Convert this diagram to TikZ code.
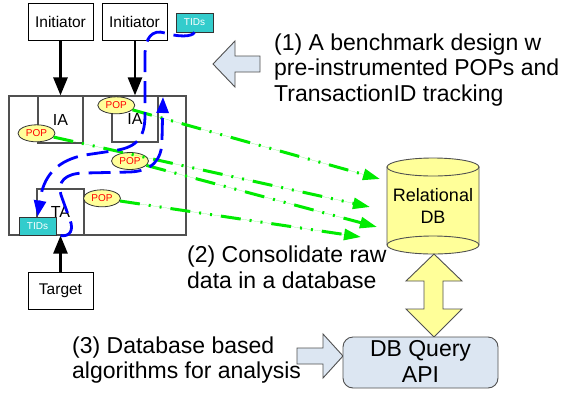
\documentclass[tikz,border=0pt]{standalone}
\usepackage{fontspec}
\setmainfont{Liberation Sans}
\usetikzlibrary{arrows.meta,shapes.geometric}
\definecolor{ylw}{RGB}{255,255,153}
\definecolor{lblue}{RGB}{220,230,242}
\definecolor{tealc}{RGB}{51,204,204}
\definecolor{grnc}{RGB}{0,235,0}
\definecolor{bluec}{RGB}{0,0,255}
\definecolor{edgec}{RGB}{80,80,80}
\definecolor{popred}{RGB}{255,0,0}
\begin{document}
\begin{tikzpicture}[x=1pt,y=-1pt,
  box/.style={draw=black, line width=0.9pt, fill=white, inner sep=0pt, font=\fontsize{15.5}{18}\selectfont},
  gbox/.style={draw=edgec, line width=1.2pt, fill=white, inner sep=0pt, font=\fontsize{16}{19}\selectfont},
  tids/.style={draw=black!80, line width=0.9pt, fill=tealc, text=white, inner sep=0pt, minimum width=37pt, font=\fontsize{10}{12}\selectfont},
  pop/.style={ellipse, draw=black!80, line width=0.8pt, fill=ylw, text=popred, inner sep=0pt, minimum width=37pt, minimum height=17pt, font=\fontsize{10}{12}\selectfont},
  blk/.style={line width=2.7pt, -{Triangle[length=18pt,width=14pt]}},
  grn/.style={draw=grnc, line width=3pt, dash pattern=on 20pt off 9pt on 2pt off 9pt on 2pt off 9pt, -{Triangle[length=17pt,width=11pt]}, fill=grnc},
  blu/.style={draw=bluec, line width=2.8pt, dash pattern=on 22pt off 9pt, -{Triangle[length=16pt,width=12pt]}},
  big/.style={font=\fontsize{23}{26}\selectfont, inner sep=0pt, anchor=base west},
  dbtext/.style={font=\fontsize{18}{21}\selectfont, inner sep=0pt, anchor=base},
  blockarrow/.style={draw=edgec, line width=0.9pt, fill=lblue, line join=miter},
  dbshape/.style={draw=edgec, line width=0.9pt, fill=ylw, line join=miter},
]
\useasboundingbox (0,0) rectangle (563,392);
\fill[white] (0,0) rectangle (563,392);

% system box and agents
\node[gbox, minimum width=177pt, minimum height=139pt] (sys) at (97.5,165.5) {};
\node[gbox, minimum width=45pt, minimum height=47pt] (ia1) at (60.5,119.5) {IA};
\node[gbox, minimum width=46pt, minimum height=46pt] (ia2) at (135,119) {IA};
\node[gbox, minimum width=47pt, minimum height=46pt] (ta) at (60.5,212) {TA};
\node[tids, minimum height=18pt] (tids2) at (37.5,226) {TIDs};

% initiators, target
\node[box, minimum width=65pt, minimum height=37pt] (ini1) at (60.5,21.5) {Initiator};
\node[box, minimum width=65pt, minimum height=37pt] (ini2) at (134.5,21.5) {Initiator};
\node[box, minimum width=65pt, minimum height=37pt] (tgt) at (60.5,290.5) {Target};
\node[tids, minimum height=19pt] (tids1) at (194.5,22.5) {TIDs};

\draw[blk] (ini1.south) -- (ia1.north);
\draw[blk] (ini2.south -| ia2.north) -- (ia2.north);
\draw[blk] (tgt.north) -- (ta.south);

% POPs
\node[pop] (pop1) at (36.5,133.3) {POP};
\node[pop] (pop2) at (116.3,105.3) {POP};
\node[pop] (pop3) at (130,161) {POP};
\node[pop] (pop4) at (102,198.3) {POP};

% database
\path[dbshape] (387,167) -- (387,245) arc[start angle=180, end angle=360, x radius=46pt, y radius=9pt] -- (479,167) -- cycle;
\draw[draw=edgec, line width=0.9pt] (387,245) arc[start angle=180, end angle=0, x radius=46pt, y radius=9pt];
\draw[dbshape] (433,167) ellipse[x radius=46pt, y radius=9pt];
\node[dbtext] (dbt1) at (433,201.5) {Relational};
\node[dbtext] (dbt2) at (433,223) {DB};

% green data flows
\coordinate (g1) at (380,179);
\coordinate (g2) at (370,207);
\coordinate (g3) at (377,227);
\coordinate (g4) at (361,237);
\draw[grn] (pop2) -- (g1);
\draw[grn] (pop1) -- (g2);
\draw[grn] (pop3) -- (g3);
\draw[grn] (pop4) -- (g4);

% blue TID flows
\coordinate (bt) at (163,97);
\draw[blu] (tids1.south) .. controls (192,37) and (178,37) .. (165,33)
  .. controls (152,29) and (145,38) .. (145,55) -- (145,115)
  .. controls (145,140) and (135,148) .. (112,151) -- (85,155)
  .. controls (58,160) and (45,175) .. (41,195) -- (tids2.north);
\draw[blu] (ta.south) .. controls (70,237) and (74,230) .. (70,220) -- (61,195)
  .. controls (57,182) and (65,173) .. (85,173) -- (130,172)
  .. controls (152,171) and (162,160) .. (162,140) -- (bt);

% block arrows
\draw[blockarrow] (213,64) -- (235,41) -- (235,56) -- (260,56) -- (260,72) -- (235,72) -- (235,87) -- cycle;
\draw[blockarrow] (297,348) -- (323,348) -- (323,334) -- (343,356) -- (323,378) -- (323,364) -- (297,364) -- cycle;
\draw[dbshape] (434,254) -- (462,281) -- (443,281) -- (443,309) -- (462,309) -- (434,337) -- (406,309) -- (424,309) -- (424,281) -- (406,281) -- cycle;

% API box
\node[draw=edgec, line width=0.9pt, fill=lblue, rounded corners=10pt, minimum width=155pt, minimum height=51pt, inner sep=0pt] (api) at (420.5,362.5) {};
\node[big, anchor=base] (apit1) at (420.5,356) {DB Query};
\node[big, anchor=base] (apit2) at (420.5,382) {API};

% texts
\node[big] (c1a) at (274,50) {(1) A benchmark design w};
\node[big] (c1b) at (274,75.5) {pre-instrumented POPs and};
\node[big] (c1c) at (274,101) {TransactionID tracking};
\node[big] (c2a) at (187,262) {(2) Consolidate raw};
\node[big] (c2b) at (187,288) {data in a database};
\node[big] (c3a) at (72,353) {(3) Database based};
\node[big] (c3b) at (72,378) {algorithms for analysis};
\end{tikzpicture}
\end{document}
